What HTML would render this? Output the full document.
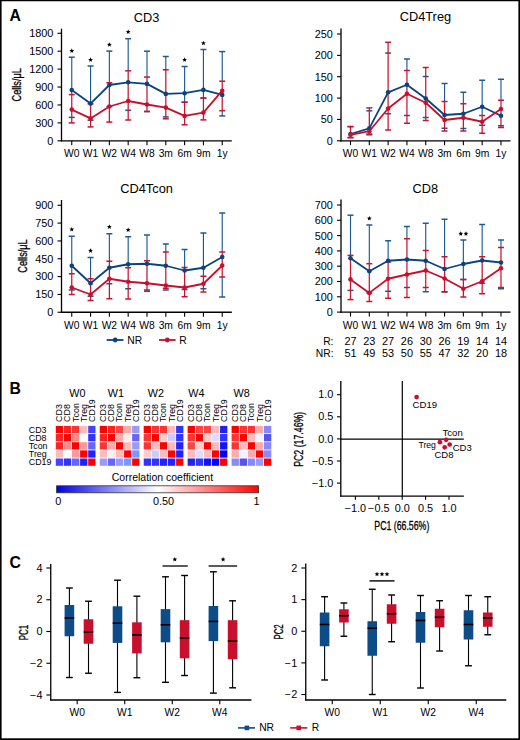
<!DOCTYPE html>
<html><head><meta charset="utf-8"><title>Figure</title>
<style>
html,body{margin:0;padding:0;background:#fff;}
body{width:520px;height:740px;overflow:hidden;}
svg{display:block;font-family:"Liberation Sans", sans-serif;}
</style></head>
<body>
<svg width="520" height="740" viewBox="0 0 520 740">
<rect width="520" height="740" fill="#fff"/>
<line x1="61.5" y1="28.7" x2="61.5" y2="141.4" stroke="#000" stroke-width="1.3"/>
<line x1="57.5" y1="140.8" x2="61.5" y2="140.8" stroke="#000" stroke-width="1.1"/>
<text transform="translate(53.4,144.7) scale(1.08,1)" font-size="10.1" text-anchor="end" font-weight="normal" fill="#000">0</text>
<line x1="57.5" y1="122.88" x2="61.5" y2="122.88" stroke="#000" stroke-width="1.1"/>
<text transform="translate(53.4,126.78) scale(1.08,1)" font-size="10.1" text-anchor="end" font-weight="normal" fill="#000">300</text>
<line x1="57.5" y1="104.96" x2="61.5" y2="104.96" stroke="#000" stroke-width="1.1"/>
<text transform="translate(53.4,108.86) scale(1.08,1)" font-size="10.1" text-anchor="end" font-weight="normal" fill="#000">600</text>
<line x1="57.5" y1="87.04" x2="61.5" y2="87.04" stroke="#000" stroke-width="1.1"/>
<text transform="translate(53.4,90.94) scale(1.08,1)" font-size="10.1" text-anchor="end" font-weight="normal" fill="#000">900</text>
<line x1="57.5" y1="69.12" x2="61.5" y2="69.12" stroke="#000" stroke-width="1.1"/>
<text transform="translate(53.4,73.02) scale(1.08,1)" font-size="10.1" text-anchor="end" font-weight="normal" fill="#000">1200</text>
<line x1="57.5" y1="51.2" x2="61.5" y2="51.2" stroke="#000" stroke-width="1.1"/>
<text transform="translate(53.4,55.1) scale(1.08,1)" font-size="10.1" text-anchor="end" font-weight="normal" fill="#000">1500</text>
<line x1="57.5" y1="33.28" x2="61.5" y2="33.28" stroke="#000" stroke-width="1.1"/>
<text transform="translate(53.4,37.18) scale(1.08,1)" font-size="10.1" text-anchor="end" font-weight="normal" fill="#000">1800</text>
<line x1="60.9" y1="140.8" x2="231.8" y2="140.8" stroke="#000" stroke-width="1.3"/>
<line x1="71.75" y1="140.8" x2="71.75" y2="145.2" stroke="#000" stroke-width="1.1"/>
<text x="71.75" y="157.3" font-size="10.3" text-anchor="middle" font-weight="normal" fill="#000">W0</text>
<line x1="90.56" y1="140.8" x2="90.56" y2="145.2" stroke="#000" stroke-width="1.1"/>
<text x="90.56" y="157.3" font-size="10.3" text-anchor="middle" font-weight="normal" fill="#000">W1</text>
<line x1="109.37" y1="140.8" x2="109.37" y2="145.2" stroke="#000" stroke-width="1.1"/>
<text x="109.37" y="157.3" font-size="10.3" text-anchor="middle" font-weight="normal" fill="#000">W2</text>
<line x1="128.18" y1="140.8" x2="128.18" y2="145.2" stroke="#000" stroke-width="1.1"/>
<text x="128.18" y="157.3" font-size="10.3" text-anchor="middle" font-weight="normal" fill="#000">W4</text>
<line x1="146.99" y1="140.8" x2="146.99" y2="145.2" stroke="#000" stroke-width="1.1"/>
<text x="146.99" y="157.3" font-size="10.3" text-anchor="middle" font-weight="normal" fill="#000">W8</text>
<line x1="165.8" y1="140.8" x2="165.8" y2="145.2" stroke="#000" stroke-width="1.1"/>
<text x="165.8" y="157.3" font-size="10.3" text-anchor="middle" font-weight="normal" fill="#000">3m</text>
<line x1="184.61" y1="140.8" x2="184.61" y2="145.2" stroke="#000" stroke-width="1.1"/>
<text x="184.61" y="157.3" font-size="10.3" text-anchor="middle" font-weight="normal" fill="#000">6m</text>
<line x1="203.42" y1="140.8" x2="203.42" y2="145.2" stroke="#000" stroke-width="1.1"/>
<text x="203.42" y="157.3" font-size="10.3" text-anchor="middle" font-weight="normal" fill="#000">9m</text>
<line x1="222.23" y1="140.8" x2="222.23" y2="145.2" stroke="#000" stroke-width="1.1"/>
<text x="222.23" y="157.3" font-size="10.3" text-anchor="middle" font-weight="normal" fill="#000">1y</text>
<line x1="71.75" y1="57.2" x2="71.75" y2="94.6" stroke="#1d5a95" stroke-width="1.15"/>
<line x1="68.75" y1="57.2" x2="74.75" y2="57.2" stroke="#1d5a95" stroke-width="1.5"/>
<line x1="68.75" y1="117.4" x2="74.75" y2="117.4" stroke="#1d5a95" stroke-width="1.5"/>
<line x1="90.56" y1="66" x2="90.56" y2="103.9" stroke="#1d5a95" stroke-width="1.15"/>
<line x1="87.56" y1="66" x2="93.56" y2="66" stroke="#1d5a95" stroke-width="1.5"/>
<line x1="87.56" y1="120.2" x2="93.56" y2="120.2" stroke="#1d5a95" stroke-width="1.5"/>
<line x1="109.37" y1="51.1" x2="109.37" y2="82.8" stroke="#1d5a95" stroke-width="1.15"/>
<line x1="106.37" y1="51.1" x2="112.37" y2="51.1" stroke="#1d5a95" stroke-width="1.5"/>
<line x1="106.37" y1="106.5" x2="112.37" y2="106.5" stroke="#1d5a95" stroke-width="1.5"/>
<line x1="128.18" y1="38.7" x2="128.18" y2="70.8" stroke="#1d5a95" stroke-width="1.15"/>
<line x1="125.18" y1="38.7" x2="131.18" y2="38.7" stroke="#1d5a95" stroke-width="1.5"/>
<line x1="125.18" y1="110.3" x2="131.18" y2="110.3" stroke="#1d5a95" stroke-width="1.5"/>
<line x1="146.99" y1="51.2" x2="146.99" y2="77.1" stroke="#1d5a95" stroke-width="1.15"/>
<line x1="143.99" y1="51.2" x2="149.99" y2="51.2" stroke="#1d5a95" stroke-width="1.5"/>
<line x1="143.99" y1="111.5" x2="149.99" y2="111.5" stroke="#1d5a95" stroke-width="1.5"/>
<line x1="165.8" y1="56.5" x2="165.8" y2="69.8" stroke="#1d5a95" stroke-width="1.15"/>
<line x1="162.8" y1="56.5" x2="168.8" y2="56.5" stroke="#1d5a95" stroke-width="1.5"/>
<line x1="162.8" y1="116.9" x2="168.8" y2="116.9" stroke="#1d5a95" stroke-width="1.5"/>
<line x1="184.61" y1="66.5" x2="184.61" y2="102.2" stroke="#1d5a95" stroke-width="1.15"/>
<line x1="181.61" y1="66.5" x2="187.61" y2="66.5" stroke="#1d5a95" stroke-width="1.5"/>
<line x1="181.61" y1="102.2" x2="187.61" y2="102.2" stroke="#1d5a95" stroke-width="1.5"/>
<line x1="203.42" y1="49.5" x2="203.42" y2="98.1" stroke="#1d5a95" stroke-width="1.15"/>
<line x1="200.42" y1="49.5" x2="206.42" y2="49.5" stroke="#1d5a95" stroke-width="1.5"/>
<line x1="200.42" y1="98.1" x2="206.42" y2="98.1" stroke="#1d5a95" stroke-width="1.5"/>
<line x1="222.23" y1="51.6" x2="222.23" y2="81.2" stroke="#1d5a95" stroke-width="1.15"/>
<line x1="222.23" y1="110.7" x2="222.23" y2="115.9" stroke="#1d5a95" stroke-width="1.15"/>
<line x1="219.23" y1="51.6" x2="225.23" y2="51.6" stroke="#1d5a95" stroke-width="1.5"/>
<line x1="219.23" y1="115.9" x2="225.23" y2="115.9" stroke="#1d5a95" stroke-width="1.5"/>
<line x1="71.75" y1="94.6" x2="71.75" y2="122.9" stroke="#c8142f" stroke-width="1.25"/>
<line x1="68.75" y1="94.6" x2="74.75" y2="94.6" stroke="#c8142f" stroke-width="1.5"/>
<line x1="68.75" y1="122.9" x2="74.75" y2="122.9" stroke="#c8142f" stroke-width="1.5"/>
<line x1="90.56" y1="103.9" x2="90.56" y2="126.9" stroke="#c8142f" stroke-width="1.25"/>
<line x1="87.56" y1="103.9" x2="93.56" y2="103.9" stroke="#c8142f" stroke-width="1.5"/>
<line x1="87.56" y1="126.9" x2="93.56" y2="126.9" stroke="#c8142f" stroke-width="1.5"/>
<line x1="109.37" y1="82.8" x2="109.37" y2="122.1" stroke="#c8142f" stroke-width="1.25"/>
<line x1="106.37" y1="82.8" x2="112.37" y2="82.8" stroke="#c8142f" stroke-width="1.5"/>
<line x1="106.37" y1="122.1" x2="112.37" y2="122.1" stroke="#c8142f" stroke-width="1.5"/>
<line x1="128.18" y1="70.8" x2="128.18" y2="120" stroke="#c8142f" stroke-width="1.25"/>
<line x1="125.18" y1="70.8" x2="131.18" y2="70.8" stroke="#c8142f" stroke-width="1.5"/>
<line x1="125.18" y1="120" x2="131.18" y2="120" stroke="#c8142f" stroke-width="1.5"/>
<line x1="146.99" y1="77.1" x2="146.99" y2="111.5" stroke="#c8142f" stroke-width="1.25"/>
<line x1="143.99" y1="77.1" x2="149.99" y2="77.1" stroke="#c8142f" stroke-width="1.5"/>
<line x1="143.99" y1="111.5" x2="149.99" y2="111.5" stroke="#c8142f" stroke-width="1.5"/>
<line x1="165.8" y1="69.8" x2="165.8" y2="118.8" stroke="#c8142f" stroke-width="1.25"/>
<line x1="162.8" y1="69.8" x2="168.8" y2="69.8" stroke="#c8142f" stroke-width="1.5"/>
<line x1="162.8" y1="118.8" x2="168.8" y2="118.8" stroke="#c8142f" stroke-width="1.5"/>
<line x1="184.61" y1="102.2" x2="184.61" y2="124.8" stroke="#c8142f" stroke-width="1.25"/>
<line x1="181.61" y1="102.2" x2="187.61" y2="102.2" stroke="#c8142f" stroke-width="1.5"/>
<line x1="181.61" y1="124.8" x2="187.61" y2="124.8" stroke="#c8142f" stroke-width="1.5"/>
<line x1="203.42" y1="98.1" x2="203.42" y2="119.9" stroke="#c8142f" stroke-width="1.25"/>
<line x1="200.42" y1="98.1" x2="206.42" y2="98.1" stroke="#c8142f" stroke-width="1.5"/>
<line x1="200.42" y1="119.9" x2="206.42" y2="119.9" stroke="#c8142f" stroke-width="1.5"/>
<line x1="222.23" y1="81.2" x2="222.23" y2="110.7" stroke="#c8142f" stroke-width="1.25"/>
<line x1="219.23" y1="81.2" x2="225.23" y2="81.2" stroke="#c8142f" stroke-width="1.5"/>
<line x1="219.23" y1="110.7" x2="225.23" y2="110.7" stroke="#c8142f" stroke-width="1.5"/>
<polyline points="71.75,90.06 90.56,103.6 109.37,85 128.18,82.3 146.99,83.9 165.8,93.9 184.61,93.2 203.42,89.9 222.23,94.9" fill="none" stroke="#0a4480" stroke-width="1.8" stroke-linejoin="round"/>
<circle cx="71.75" cy="90.06" r="2.3" fill="#0a4480"/>
<circle cx="90.56" cy="103.6" r="2.3" fill="#0a4480"/>
<circle cx="109.37" cy="85" r="2.3" fill="#0a4480"/>
<circle cx="128.18" cy="82.3" r="2.3" fill="#0a4480"/>
<circle cx="146.99" cy="83.9" r="2.3" fill="#0a4480"/>
<circle cx="165.8" cy="93.9" r="2.3" fill="#0a4480"/>
<circle cx="184.61" cy="93.2" r="2.3" fill="#0a4480"/>
<circle cx="203.42" cy="89.9" r="2.3" fill="#0a4480"/>
<circle cx="222.23" cy="94.9" r="2.3" fill="#0a4480"/>
<polyline points="71.75,109.6 90.56,118.4 109.37,106.5 128.18,101 146.99,104.5 165.8,107.6 184.61,115.9 203.42,112.6 222.23,90.7" fill="none" stroke="#c8102e" stroke-width="1.8" stroke-linejoin="round"/>
<circle cx="71.75" cy="109.6" r="2.3" fill="#c8102e"/>
<circle cx="90.56" cy="118.4" r="2.3" fill="#c8102e"/>
<circle cx="109.37" cy="106.5" r="2.3" fill="#c8102e"/>
<circle cx="128.18" cy="101" r="2.3" fill="#c8102e"/>
<circle cx="146.99" cy="104.5" r="2.3" fill="#c8102e"/>
<circle cx="165.8" cy="107.6" r="2.3" fill="#c8102e"/>
<circle cx="184.61" cy="115.9" r="2.3" fill="#c8102e"/>
<circle cx="203.42" cy="112.6" r="2.3" fill="#c8102e"/>
<circle cx="222.23" cy="90.7" r="2.3" fill="#c8102e"/>
<polygon points="71.75,48.3 72.41,49.89 74.13,50.03 72.82,51.15 73.22,52.82 71.75,51.92 70.28,52.82 70.68,51.15 69.37,50.03 71.09,49.89" fill="#000"/>
<polygon points="90.56,57.3 91.22,58.89 92.94,59.03 91.63,60.15 92.03,61.82 90.56,60.92 89.09,61.82 89.49,60.15 88.18,59.03 89.9,58.89" fill="#000"/>
<polygon points="109.37,42.2 110.03,43.79 111.75,43.93 110.44,45.05 110.84,46.72 109.37,45.83 107.9,46.72 108.3,45.05 106.99,43.93 108.71,43.79" fill="#000"/>
<polygon points="128.18,29.5 128.84,31.09 130.56,31.23 129.25,32.35 129.65,34.02 128.18,33.12 126.71,34.02 127.11,32.35 125.8,31.23 127.52,31.09" fill="#000"/>
<polygon points="184.61,57.3 185.27,58.89 186.99,59.03 185.68,60.15 186.08,61.82 184.61,60.92 183.14,61.82 183.54,60.15 182.23,59.03 183.95,58.89" fill="#000"/>
<polygon points="203.42,40.7 204.08,42.29 205.8,42.43 204.49,43.55 204.89,45.22 203.42,44.33 201.95,45.22 202.35,43.55 201.04,42.43 202.76,42.29" fill="#000"/>
<text x="146.6" y="21.6" font-size="12.8" text-anchor="middle" font-weight="normal" fill="#000">CD3</text>
<text transform="translate(21,84.8) rotate(-90) scale(0.74,1)" font-size="12.4" text-anchor="middle" fill="#000" stroke="#000" stroke-width="0.3">Cells/μL</text>
<line x1="341" y1="28.6" x2="341" y2="141.4" stroke="#000" stroke-width="1.3"/>
<line x1="337" y1="140.8" x2="341" y2="140.8" stroke="#000" stroke-width="1.1"/>
<text transform="translate(332.9,144.7) scale(1.08,1)" font-size="10.1" text-anchor="end" font-weight="normal" fill="#000">0</text>
<line x1="337" y1="119.44" x2="341" y2="119.44" stroke="#000" stroke-width="1.1"/>
<text transform="translate(332.9,123.34) scale(1.08,1)" font-size="10.1" text-anchor="end" font-weight="normal" fill="#000">50</text>
<line x1="337" y1="98.08" x2="341" y2="98.08" stroke="#000" stroke-width="1.1"/>
<text transform="translate(332.9,101.98) scale(1.08,1)" font-size="10.1" text-anchor="end" font-weight="normal" fill="#000">100</text>
<line x1="337" y1="76.72" x2="341" y2="76.72" stroke="#000" stroke-width="1.1"/>
<text transform="translate(332.9,80.62) scale(1.08,1)" font-size="10.1" text-anchor="end" font-weight="normal" fill="#000">150</text>
<line x1="337" y1="55.36" x2="341" y2="55.36" stroke="#000" stroke-width="1.1"/>
<text transform="translate(332.9,59.26) scale(1.08,1)" font-size="10.1" text-anchor="end" font-weight="normal" fill="#000">200</text>
<line x1="337" y1="34" x2="341" y2="34" stroke="#000" stroke-width="1.1"/>
<text transform="translate(332.9,37.9) scale(1.08,1)" font-size="10.1" text-anchor="end" font-weight="normal" fill="#000">250</text>
<line x1="340.4" y1="140.8" x2="510.5" y2="140.8" stroke="#000" stroke-width="1.3"/>
<line x1="350.5" y1="140.8" x2="350.5" y2="145.2" stroke="#000" stroke-width="1.1"/>
<text x="350.5" y="157.3" font-size="10.3" text-anchor="middle" font-weight="normal" fill="#000">W0</text>
<line x1="369.31" y1="140.8" x2="369.31" y2="145.2" stroke="#000" stroke-width="1.1"/>
<text x="369.31" y="157.3" font-size="10.3" text-anchor="middle" font-weight="normal" fill="#000">W1</text>
<line x1="388.12" y1="140.8" x2="388.12" y2="145.2" stroke="#000" stroke-width="1.1"/>
<text x="388.12" y="157.3" font-size="10.3" text-anchor="middle" font-weight="normal" fill="#000">W2</text>
<line x1="406.93" y1="140.8" x2="406.93" y2="145.2" stroke="#000" stroke-width="1.1"/>
<text x="406.93" y="157.3" font-size="10.3" text-anchor="middle" font-weight="normal" fill="#000">W4</text>
<line x1="425.74" y1="140.8" x2="425.74" y2="145.2" stroke="#000" stroke-width="1.1"/>
<text x="425.74" y="157.3" font-size="10.3" text-anchor="middle" font-weight="normal" fill="#000">W8</text>
<line x1="444.55" y1="140.8" x2="444.55" y2="145.2" stroke="#000" stroke-width="1.1"/>
<text x="444.55" y="157.3" font-size="10.3" text-anchor="middle" font-weight="normal" fill="#000">3m</text>
<line x1="463.36" y1="140.8" x2="463.36" y2="145.2" stroke="#000" stroke-width="1.1"/>
<text x="463.36" y="157.3" font-size="10.3" text-anchor="middle" font-weight="normal" fill="#000">6m</text>
<line x1="482.17" y1="140.8" x2="482.17" y2="145.2" stroke="#000" stroke-width="1.1"/>
<text x="482.17" y="157.3" font-size="10.3" text-anchor="middle" font-weight="normal" fill="#000">9m</text>
<line x1="500.98" y1="140.8" x2="500.98" y2="145.2" stroke="#000" stroke-width="1.1"/>
<text x="500.98" y="157.3" font-size="10.3" text-anchor="middle" font-weight="normal" fill="#000">1y</text>
<line x1="350.5" y1="126.5" x2="350.5" y2="126.7" stroke="#1d5a95" stroke-width="1.15"/>
<line x1="347.5" y1="126.5" x2="353.5" y2="126.5" stroke="#1d5a95" stroke-width="1.5"/>
<line x1="347.5" y1="137.5" x2="353.5" y2="137.5" stroke="#1d5a95" stroke-width="1.5"/>
<line x1="369.31" y1="134" x2="369.31" y2="134.8" stroke="#1d5a95" stroke-width="1.15"/>
<line x1="366.31" y1="110.8" x2="372.31" y2="110.8" stroke="#1d5a95" stroke-width="1.5"/>
<line x1="366.31" y1="134.8" x2="372.31" y2="134.8" stroke="#1d5a95" stroke-width="1.5"/>
<line x1="385.12" y1="53.1" x2="391.12" y2="53.1" stroke="#1d5a95" stroke-width="1.5"/>
<line x1="385.12" y1="113.8" x2="391.12" y2="113.8" stroke="#1d5a95" stroke-width="1.5"/>
<line x1="406.93" y1="59" x2="406.93" y2="70.5" stroke="#1d5a95" stroke-width="1.15"/>
<line x1="403.93" y1="59" x2="409.93" y2="59" stroke="#1d5a95" stroke-width="1.5"/>
<line x1="403.93" y1="115.5" x2="409.93" y2="115.5" stroke="#1d5a95" stroke-width="1.5"/>
<line x1="422.74" y1="76.5" x2="428.74" y2="76.5" stroke="#1d5a95" stroke-width="1.5"/>
<line x1="422.74" y1="117.5" x2="428.74" y2="117.5" stroke="#1d5a95" stroke-width="1.5"/>
<line x1="444.55" y1="83.5" x2="444.55" y2="101.5" stroke="#1d5a95" stroke-width="1.15"/>
<line x1="441.55" y1="83.5" x2="447.55" y2="83.5" stroke="#1d5a95" stroke-width="1.5"/>
<line x1="441.55" y1="128.25" x2="447.55" y2="128.25" stroke="#1d5a95" stroke-width="1.5"/>
<line x1="463.36" y1="92.25" x2="463.36" y2="103.75" stroke="#1d5a95" stroke-width="1.15"/>
<line x1="460.36" y1="92.25" x2="466.36" y2="92.25" stroke="#1d5a95" stroke-width="1.5"/>
<line x1="460.36" y1="128.5" x2="466.36" y2="128.5" stroke="#1d5a95" stroke-width="1.5"/>
<line x1="482.17" y1="80.25" x2="482.17" y2="115.5" stroke="#1d5a95" stroke-width="1.15"/>
<line x1="479.17" y1="80.25" x2="485.17" y2="80.25" stroke="#1d5a95" stroke-width="1.5"/>
<line x1="479.17" y1="125.25" x2="485.17" y2="125.25" stroke="#1d5a95" stroke-width="1.5"/>
<line x1="500.98" y1="79.25" x2="500.98" y2="100.25" stroke="#1d5a95" stroke-width="1.15"/>
<line x1="497.98" y1="79.25" x2="503.98" y2="79.25" stroke="#1d5a95" stroke-width="1.5"/>
<line x1="497.98" y1="125.75" x2="503.98" y2="125.75" stroke="#1d5a95" stroke-width="1.5"/>
<line x1="350.5" y1="126.7" x2="350.5" y2="137.7" stroke="#c8142f" stroke-width="1.25"/>
<line x1="347.5" y1="126.7" x2="353.5" y2="126.7" stroke="#c8142f" stroke-width="1.5"/>
<line x1="347.5" y1="137.7" x2="353.5" y2="137.7" stroke="#c8142f" stroke-width="1.5"/>
<line x1="369.31" y1="107.9" x2="369.31" y2="134" stroke="#c8142f" stroke-width="1.25"/>
<line x1="366.31" y1="107.9" x2="372.31" y2="107.9" stroke="#c8142f" stroke-width="1.5"/>
<line x1="366.31" y1="134" x2="372.31" y2="134" stroke="#c8142f" stroke-width="1.5"/>
<line x1="388.12" y1="42.3" x2="388.12" y2="130" stroke="#c8142f" stroke-width="1.25"/>
<line x1="385.12" y1="42.3" x2="391.12" y2="42.3" stroke="#c8142f" stroke-width="1.5"/>
<line x1="385.12" y1="130" x2="391.12" y2="130" stroke="#c8142f" stroke-width="1.5"/>
<line x1="406.93" y1="70.5" x2="406.93" y2="123.25" stroke="#c8142f" stroke-width="1.25"/>
<line x1="403.93" y1="70.5" x2="409.93" y2="70.5" stroke="#c8142f" stroke-width="1.5"/>
<line x1="403.93" y1="123.25" x2="409.93" y2="123.25" stroke="#c8142f" stroke-width="1.5"/>
<line x1="425.74" y1="67.5" x2="425.74" y2="120.5" stroke="#c8142f" stroke-width="1.25"/>
<line x1="422.74" y1="67.5" x2="428.74" y2="67.5" stroke="#c8142f" stroke-width="1.5"/>
<line x1="422.74" y1="120.5" x2="428.74" y2="120.5" stroke="#c8142f" stroke-width="1.5"/>
<line x1="444.55" y1="101.5" x2="444.55" y2="131" stroke="#c8142f" stroke-width="1.25"/>
<line x1="441.55" y1="101.5" x2="447.55" y2="101.5" stroke="#c8142f" stroke-width="1.5"/>
<line x1="441.55" y1="131" x2="447.55" y2="131" stroke="#c8142f" stroke-width="1.5"/>
<line x1="463.36" y1="103.75" x2="463.36" y2="131" stroke="#c8142f" stroke-width="1.25"/>
<line x1="460.36" y1="103.75" x2="466.36" y2="103.75" stroke="#c8142f" stroke-width="1.5"/>
<line x1="460.36" y1="131" x2="466.36" y2="131" stroke="#c8142f" stroke-width="1.5"/>
<line x1="482.17" y1="115.5" x2="482.17" y2="133.25" stroke="#c8142f" stroke-width="1.25"/>
<line x1="479.17" y1="115.5" x2="485.17" y2="115.5" stroke="#c8142f" stroke-width="1.5"/>
<line x1="479.17" y1="133.25" x2="485.17" y2="133.25" stroke="#c8142f" stroke-width="1.5"/>
<line x1="500.98" y1="100.25" x2="500.98" y2="127.5" stroke="#c8142f" stroke-width="1.25"/>
<line x1="497.98" y1="100.25" x2="503.98" y2="100.25" stroke="#c8142f" stroke-width="1.5"/>
<line x1="497.98" y1="127.5" x2="503.98" y2="127.5" stroke="#c8142f" stroke-width="1.5"/>
<polyline points="350.5,134 369.31,128.3 388.12,92.3 406.93,84.75 425.74,98.5 444.55,115 463.36,113.75 482.17,106.75 500.98,115.75" fill="none" stroke="#0a4480" stroke-width="1.8" stroke-linejoin="round"/>
<circle cx="350.5" cy="134" r="2.3" fill="#0a4480"/>
<circle cx="369.31" cy="128.3" r="2.3" fill="#0a4480"/>
<circle cx="388.12" cy="92.3" r="2.3" fill="#0a4480"/>
<circle cx="406.93" cy="84.75" r="2.3" fill="#0a4480"/>
<circle cx="425.74" cy="98.5" r="2.3" fill="#0a4480"/>
<circle cx="444.55" cy="115" r="2.3" fill="#0a4480"/>
<circle cx="463.36" cy="113.75" r="2.3" fill="#0a4480"/>
<circle cx="482.17" cy="106.75" r="2.3" fill="#0a4480"/>
<circle cx="500.98" cy="115.75" r="2.3" fill="#0a4480"/>
<polyline points="350.5,134.8 369.31,131.2 388.12,108.5 406.93,93.75 425.74,102.75 444.55,120 463.36,117.75 482.17,121.75 500.98,109" fill="none" stroke="#c8102e" stroke-width="1.8" stroke-linejoin="round"/>
<circle cx="350.5" cy="134.8" r="2.3" fill="#c8102e"/>
<circle cx="369.31" cy="131.2" r="2.3" fill="#c8102e"/>
<circle cx="388.12" cy="108.5" r="2.3" fill="#c8102e"/>
<circle cx="406.93" cy="93.75" r="2.3" fill="#c8102e"/>
<circle cx="425.74" cy="102.75" r="2.3" fill="#c8102e"/>
<circle cx="444.55" cy="120" r="2.3" fill="#c8102e"/>
<circle cx="463.36" cy="117.75" r="2.3" fill="#c8102e"/>
<circle cx="482.17" cy="121.75" r="2.3" fill="#c8102e"/>
<circle cx="500.98" cy="109" r="2.3" fill="#c8102e"/>
<text x="425.4" y="21.4" font-size="12.8" text-anchor="middle" font-weight="normal" fill="#000">CD4Treg</text>
<line x1="61.5" y1="200" x2="61.5" y2="312.85" stroke="#000" stroke-width="1.3"/>
<line x1="57.5" y1="312.25" x2="61.5" y2="312.25" stroke="#000" stroke-width="1.1"/>
<text transform="translate(53.4,316.15) scale(1.08,1)" font-size="10.1" text-anchor="end" font-weight="normal" fill="#000">0</text>
<line x1="57.5" y1="294.42" x2="61.5" y2="294.42" stroke="#000" stroke-width="1.1"/>
<text transform="translate(53.4,298.32) scale(1.08,1)" font-size="10.1" text-anchor="end" font-weight="normal" fill="#000">150</text>
<line x1="57.5" y1="276.59" x2="61.5" y2="276.59" stroke="#000" stroke-width="1.1"/>
<text transform="translate(53.4,280.49) scale(1.08,1)" font-size="10.1" text-anchor="end" font-weight="normal" fill="#000">300</text>
<line x1="57.5" y1="258.76" x2="61.5" y2="258.76" stroke="#000" stroke-width="1.1"/>
<text transform="translate(53.4,262.66) scale(1.08,1)" font-size="10.1" text-anchor="end" font-weight="normal" fill="#000">450</text>
<line x1="57.5" y1="240.93" x2="61.5" y2="240.93" stroke="#000" stroke-width="1.1"/>
<text transform="translate(53.4,244.83) scale(1.08,1)" font-size="10.1" text-anchor="end" font-weight="normal" fill="#000">600</text>
<line x1="57.5" y1="223.1" x2="61.5" y2="223.1" stroke="#000" stroke-width="1.1"/>
<text transform="translate(53.4,227) scale(1.08,1)" font-size="10.1" text-anchor="end" font-weight="normal" fill="#000">750</text>
<line x1="57.5" y1="205.27" x2="61.5" y2="205.27" stroke="#000" stroke-width="1.1"/>
<text transform="translate(53.4,209.17) scale(1.08,1)" font-size="10.1" text-anchor="end" font-weight="normal" fill="#000">900</text>
<line x1="60.9" y1="312.25" x2="231.8" y2="312.25" stroke="#000" stroke-width="1.3"/>
<line x1="71.75" y1="312.25" x2="71.75" y2="316.65" stroke="#000" stroke-width="1.1"/>
<text x="71.75" y="328.75" font-size="10.3" text-anchor="middle" font-weight="normal" fill="#000">W0</text>
<line x1="90.56" y1="312.25" x2="90.56" y2="316.65" stroke="#000" stroke-width="1.1"/>
<text x="90.56" y="328.75" font-size="10.3" text-anchor="middle" font-weight="normal" fill="#000">W1</text>
<line x1="109.37" y1="312.25" x2="109.37" y2="316.65" stroke="#000" stroke-width="1.1"/>
<text x="109.37" y="328.75" font-size="10.3" text-anchor="middle" font-weight="normal" fill="#000">W2</text>
<line x1="128.18" y1="312.25" x2="128.18" y2="316.65" stroke="#000" stroke-width="1.1"/>
<text x="128.18" y="328.75" font-size="10.3" text-anchor="middle" font-weight="normal" fill="#000">W4</text>
<line x1="146.99" y1="312.25" x2="146.99" y2="316.65" stroke="#000" stroke-width="1.1"/>
<text x="146.99" y="328.75" font-size="10.3" text-anchor="middle" font-weight="normal" fill="#000">W8</text>
<line x1="165.8" y1="312.25" x2="165.8" y2="316.65" stroke="#000" stroke-width="1.1"/>
<text x="165.8" y="328.75" font-size="10.3" text-anchor="middle" font-weight="normal" fill="#000">3m</text>
<line x1="184.61" y1="312.25" x2="184.61" y2="316.65" stroke="#000" stroke-width="1.1"/>
<text x="184.61" y="328.75" font-size="10.3" text-anchor="middle" font-weight="normal" fill="#000">6m</text>
<line x1="203.42" y1="312.25" x2="203.42" y2="316.65" stroke="#000" stroke-width="1.1"/>
<text x="203.42" y="328.75" font-size="10.3" text-anchor="middle" font-weight="normal" fill="#000">9m</text>
<line x1="222.23" y1="312.25" x2="222.23" y2="316.65" stroke="#000" stroke-width="1.1"/>
<text x="222.23" y="328.75" font-size="10.3" text-anchor="middle" font-weight="normal" fill="#000">1y</text>
<line x1="71.75" y1="236.25" x2="71.75" y2="273.75" stroke="#1d5a95" stroke-width="1.15"/>
<line x1="68.75" y1="236.25" x2="74.75" y2="236.25" stroke="#1d5a95" stroke-width="1.5"/>
<line x1="68.75" y1="290" x2="74.75" y2="290" stroke="#1d5a95" stroke-width="1.5"/>
<line x1="90.56" y1="257.5" x2="90.56" y2="278.75" stroke="#1d5a95" stroke-width="1.15"/>
<line x1="87.56" y1="257.5" x2="93.56" y2="257.5" stroke="#1d5a95" stroke-width="1.5"/>
<line x1="87.56" y1="296.25" x2="93.56" y2="296.25" stroke="#1d5a95" stroke-width="1.5"/>
<line x1="109.37" y1="233.75" x2="109.37" y2="261.25" stroke="#1d5a95" stroke-width="1.15"/>
<line x1="106.37" y1="233.75" x2="112.37" y2="233.75" stroke="#1d5a95" stroke-width="1.5"/>
<line x1="106.37" y1="283.75" x2="112.37" y2="283.75" stroke="#1d5a95" stroke-width="1.5"/>
<line x1="128.18" y1="236.75" x2="128.18" y2="267.75" stroke="#1d5a95" stroke-width="1.15"/>
<line x1="125.18" y1="236.75" x2="131.18" y2="236.75" stroke="#1d5a95" stroke-width="1.5"/>
<line x1="125.18" y1="288.75" x2="131.18" y2="288.75" stroke="#1d5a95" stroke-width="1.5"/>
<line x1="146.99" y1="235" x2="146.99" y2="260.75" stroke="#1d5a95" stroke-width="1.15"/>
<line x1="143.99" y1="235" x2="149.99" y2="235" stroke="#1d5a95" stroke-width="1.5"/>
<line x1="143.99" y1="290" x2="149.99" y2="290" stroke="#1d5a95" stroke-width="1.5"/>
<line x1="165.8" y1="244" x2="165.8" y2="252" stroke="#1d5a95" stroke-width="1.15"/>
<line x1="165.8" y1="288.25" x2="165.8" y2="290" stroke="#1d5a95" stroke-width="1.15"/>
<line x1="162.8" y1="244" x2="168.8" y2="244" stroke="#1d5a95" stroke-width="1.5"/>
<line x1="162.8" y1="290" x2="168.8" y2="290" stroke="#1d5a95" stroke-width="1.5"/>
<line x1="184.61" y1="249.5" x2="184.61" y2="267.5" stroke="#1d5a95" stroke-width="1.15"/>
<line x1="181.61" y1="249.5" x2="187.61" y2="249.5" stroke="#1d5a95" stroke-width="1.5"/>
<line x1="181.61" y1="289.5" x2="187.61" y2="289.5" stroke="#1d5a95" stroke-width="1.5"/>
<line x1="203.42" y1="233" x2="203.42" y2="276.25" stroke="#1d5a95" stroke-width="1.15"/>
<line x1="200.42" y1="233" x2="206.42" y2="233" stroke="#1d5a95" stroke-width="1.5"/>
<line x1="200.42" y1="288.75" x2="206.42" y2="288.75" stroke="#1d5a95" stroke-width="1.5"/>
<line x1="222.23" y1="213" x2="222.23" y2="252" stroke="#1d5a95" stroke-width="1.15"/>
<line x1="222.23" y1="277" x2="222.23" y2="297" stroke="#1d5a95" stroke-width="1.15"/>
<line x1="219.23" y1="213" x2="225.23" y2="213" stroke="#1d5a95" stroke-width="1.5"/>
<line x1="219.23" y1="297" x2="225.23" y2="297" stroke="#1d5a95" stroke-width="1.5"/>
<line x1="71.75" y1="273.75" x2="71.75" y2="294.5" stroke="#c8142f" stroke-width="1.25"/>
<line x1="68.75" y1="273.75" x2="74.75" y2="273.75" stroke="#c8142f" stroke-width="1.5"/>
<line x1="68.75" y1="294.5" x2="74.75" y2="294.5" stroke="#c8142f" stroke-width="1.5"/>
<line x1="90.56" y1="278.75" x2="90.56" y2="300.5" stroke="#c8142f" stroke-width="1.25"/>
<line x1="87.56" y1="278.75" x2="93.56" y2="278.75" stroke="#c8142f" stroke-width="1.5"/>
<line x1="87.56" y1="300.5" x2="93.56" y2="300.5" stroke="#c8142f" stroke-width="1.5"/>
<line x1="109.37" y1="261.25" x2="109.37" y2="298.75" stroke="#c8142f" stroke-width="1.25"/>
<line x1="106.37" y1="261.25" x2="112.37" y2="261.25" stroke="#c8142f" stroke-width="1.5"/>
<line x1="106.37" y1="298.75" x2="112.37" y2="298.75" stroke="#c8142f" stroke-width="1.5"/>
<line x1="128.18" y1="267.75" x2="128.18" y2="299" stroke="#c8142f" stroke-width="1.25"/>
<line x1="125.18" y1="267.75" x2="131.18" y2="267.75" stroke="#c8142f" stroke-width="1.5"/>
<line x1="125.18" y1="299" x2="131.18" y2="299" stroke="#c8142f" stroke-width="1.5"/>
<line x1="146.99" y1="260.75" x2="146.99" y2="291.25" stroke="#c8142f" stroke-width="1.25"/>
<line x1="143.99" y1="260.75" x2="149.99" y2="260.75" stroke="#c8142f" stroke-width="1.5"/>
<line x1="143.99" y1="291.25" x2="149.99" y2="291.25" stroke="#c8142f" stroke-width="1.5"/>
<line x1="165.8" y1="252" x2="165.8" y2="288.25" stroke="#c8142f" stroke-width="1.25"/>
<line x1="162.8" y1="252" x2="168.8" y2="252" stroke="#c8142f" stroke-width="1.5"/>
<line x1="162.8" y1="288.25" x2="168.8" y2="288.25" stroke="#c8142f" stroke-width="1.5"/>
<line x1="184.61" y1="267.5" x2="184.61" y2="296.75" stroke="#c8142f" stroke-width="1.25"/>
<line x1="181.61" y1="267.5" x2="187.61" y2="267.5" stroke="#c8142f" stroke-width="1.5"/>
<line x1="181.61" y1="296.75" x2="187.61" y2="296.75" stroke="#c8142f" stroke-width="1.5"/>
<line x1="203.42" y1="276.25" x2="203.42" y2="292" stroke="#c8142f" stroke-width="1.25"/>
<line x1="200.42" y1="276.25" x2="206.42" y2="276.25" stroke="#c8142f" stroke-width="1.5"/>
<line x1="200.42" y1="292" x2="206.42" y2="292" stroke="#c8142f" stroke-width="1.5"/>
<line x1="222.23" y1="252" x2="222.23" y2="277" stroke="#c8142f" stroke-width="1.25"/>
<line x1="219.23" y1="252" x2="225.23" y2="252" stroke="#c8142f" stroke-width="1.5"/>
<line x1="219.23" y1="277" x2="225.23" y2="277" stroke="#c8142f" stroke-width="1.5"/>
<polyline points="71.75,265.75 90.56,283.25 109.37,267.75 128.18,264.25 146.99,263.75 165.8,265.75 184.61,270.5 203.42,267.75 222.23,257" fill="none" stroke="#0a4480" stroke-width="1.8" stroke-linejoin="round"/>
<circle cx="71.75" cy="265.75" r="2.3" fill="#0a4480"/>
<circle cx="90.56" cy="283.25" r="2.3" fill="#0a4480"/>
<circle cx="109.37" cy="267.75" r="2.3" fill="#0a4480"/>
<circle cx="128.18" cy="264.25" r="2.3" fill="#0a4480"/>
<circle cx="146.99" cy="263.75" r="2.3" fill="#0a4480"/>
<circle cx="165.8" cy="265.75" r="2.3" fill="#0a4480"/>
<circle cx="184.61" cy="270.5" r="2.3" fill="#0a4480"/>
<circle cx="203.42" cy="267.75" r="2.3" fill="#0a4480"/>
<circle cx="222.23" cy="257" r="2.3" fill="#0a4480"/>
<polyline points="71.75,287.5 90.56,294.5 109.37,278.75 128.18,281.75 146.99,283.25 165.8,285.5 184.61,287.5 203.42,283.75 222.23,265.5" fill="none" stroke="#c8102e" stroke-width="1.8" stroke-linejoin="round"/>
<circle cx="71.75" cy="287.5" r="2.3" fill="#c8102e"/>
<circle cx="90.56" cy="294.5" r="2.3" fill="#c8102e"/>
<circle cx="109.37" cy="278.75" r="2.3" fill="#c8102e"/>
<circle cx="128.18" cy="281.75" r="2.3" fill="#c8102e"/>
<circle cx="146.99" cy="283.25" r="2.3" fill="#c8102e"/>
<circle cx="165.8" cy="285.5" r="2.3" fill="#c8102e"/>
<circle cx="184.61" cy="287.5" r="2.3" fill="#c8102e"/>
<circle cx="203.42" cy="283.75" r="2.3" fill="#c8102e"/>
<circle cx="222.23" cy="265.5" r="2.3" fill="#c8102e"/>
<polygon points="71.75,227 72.41,228.59 74.13,228.73 72.82,229.85 73.22,231.52 71.75,230.62 70.28,231.52 70.68,229.85 69.37,228.73 71.09,228.59" fill="#000"/>
<polygon points="90.56,248.25 91.22,249.84 92.94,249.98 91.63,251.1 92.03,252.77 90.56,251.88 89.09,252.77 89.49,251.1 88.18,249.98 89.9,249.84" fill="#000"/>
<polygon points="109.37,224.5 110.03,226.09 111.75,226.23 110.44,227.35 110.84,229.02 109.37,228.12 107.9,229.02 108.3,227.35 106.99,226.23 108.71,226.09" fill="#000"/>
<polygon points="128.18,227.5 128.84,229.09 130.56,229.23 129.25,230.35 129.65,232.02 128.18,231.12 126.71,232.02 127.11,230.35 125.8,229.23 127.52,229.09" fill="#000"/>
<text x="146.6" y="193" font-size="12.8" text-anchor="middle" font-weight="normal" fill="#000">CD4Tcon</text>
<text transform="translate(26.7,256) rotate(-90) scale(0.74,1)" font-size="12.4" text-anchor="middle" fill="#000" stroke="#000" stroke-width="0.3">Cells/μL</text>
<line x1="341" y1="199.5" x2="341" y2="312.7" stroke="#000" stroke-width="1.3"/>
<line x1="337" y1="312.1" x2="341" y2="312.1" stroke="#000" stroke-width="1.1"/>
<text transform="translate(332.9,316) scale(1.08,1)" font-size="10.1" text-anchor="end" font-weight="normal" fill="#000">0</text>
<line x1="337" y1="296.8" x2="341" y2="296.8" stroke="#000" stroke-width="1.1"/>
<text transform="translate(332.9,300.7) scale(1.08,1)" font-size="10.1" text-anchor="end" font-weight="normal" fill="#000">100</text>
<line x1="337" y1="281.5" x2="341" y2="281.5" stroke="#000" stroke-width="1.1"/>
<text transform="translate(332.9,285.4) scale(1.08,1)" font-size="10.1" text-anchor="end" font-weight="normal" fill="#000">200</text>
<line x1="337" y1="266.2" x2="341" y2="266.2" stroke="#000" stroke-width="1.1"/>
<text transform="translate(332.9,270.1) scale(1.08,1)" font-size="10.1" text-anchor="end" font-weight="normal" fill="#000">300</text>
<line x1="337" y1="250.9" x2="341" y2="250.9" stroke="#000" stroke-width="1.1"/>
<text transform="translate(332.9,254.8) scale(1.08,1)" font-size="10.1" text-anchor="end" font-weight="normal" fill="#000">400</text>
<line x1="337" y1="235.6" x2="341" y2="235.6" stroke="#000" stroke-width="1.1"/>
<text transform="translate(332.9,239.5) scale(1.08,1)" font-size="10.1" text-anchor="end" font-weight="normal" fill="#000">500</text>
<line x1="337" y1="220.3" x2="341" y2="220.3" stroke="#000" stroke-width="1.1"/>
<text transform="translate(332.9,224.2) scale(1.08,1)" font-size="10.1" text-anchor="end" font-weight="normal" fill="#000">600</text>
<line x1="337" y1="205" x2="341" y2="205" stroke="#000" stroke-width="1.1"/>
<text transform="translate(332.9,208.9) scale(1.08,1)" font-size="10.1" text-anchor="end" font-weight="normal" fill="#000">700</text>
<line x1="340.4" y1="312.1" x2="510.5" y2="312.1" stroke="#000" stroke-width="1.3"/>
<line x1="350.5" y1="312.1" x2="350.5" y2="316.5" stroke="#000" stroke-width="1.1"/>
<text x="350.5" y="328.6" font-size="10.3" text-anchor="middle" font-weight="normal" fill="#000">W0</text>
<line x1="369.31" y1="312.1" x2="369.31" y2="316.5" stroke="#000" stroke-width="1.1"/>
<text x="369.31" y="328.6" font-size="10.3" text-anchor="middle" font-weight="normal" fill="#000">W1</text>
<line x1="388.12" y1="312.1" x2="388.12" y2="316.5" stroke="#000" stroke-width="1.1"/>
<text x="388.12" y="328.6" font-size="10.3" text-anchor="middle" font-weight="normal" fill="#000">W2</text>
<line x1="406.93" y1="312.1" x2="406.93" y2="316.5" stroke="#000" stroke-width="1.1"/>
<text x="406.93" y="328.6" font-size="10.3" text-anchor="middle" font-weight="normal" fill="#000">W4</text>
<line x1="425.74" y1="312.1" x2="425.74" y2="316.5" stroke="#000" stroke-width="1.1"/>
<text x="425.74" y="328.6" font-size="10.3" text-anchor="middle" font-weight="normal" fill="#000">W8</text>
<line x1="444.55" y1="312.1" x2="444.55" y2="316.5" stroke="#000" stroke-width="1.1"/>
<text x="444.55" y="328.6" font-size="10.3" text-anchor="middle" font-weight="normal" fill="#000">3m</text>
<line x1="463.36" y1="312.1" x2="463.36" y2="316.5" stroke="#000" stroke-width="1.1"/>
<text x="463.36" y="328.6" font-size="10.3" text-anchor="middle" font-weight="normal" fill="#000">6m</text>
<line x1="482.17" y1="312.1" x2="482.17" y2="316.5" stroke="#000" stroke-width="1.1"/>
<text x="482.17" y="328.6" font-size="10.3" text-anchor="middle" font-weight="normal" fill="#000">9m</text>
<line x1="500.98" y1="312.1" x2="500.98" y2="316.5" stroke="#000" stroke-width="1.1"/>
<text x="500.98" y="328.6" font-size="10.3" text-anchor="middle" font-weight="normal" fill="#000">1y</text>
<line x1="350.5" y1="215.2" x2="350.5" y2="255.4" stroke="#1d5a95" stroke-width="1.15"/>
<line x1="347.5" y1="215.2" x2="353.5" y2="215.2" stroke="#1d5a95" stroke-width="1.5"/>
<line x1="347.5" y1="290.4" x2="353.5" y2="290.4" stroke="#1d5a95" stroke-width="1.5"/>
<line x1="369.31" y1="225" x2="369.31" y2="263.7" stroke="#1d5a95" stroke-width="1.15"/>
<line x1="366.31" y1="225" x2="372.31" y2="225" stroke="#1d5a95" stroke-width="1.5"/>
<line x1="366.31" y1="293" x2="372.31" y2="293" stroke="#1d5a95" stroke-width="1.5"/>
<line x1="388.12" y1="240.75" x2="388.12" y2="262" stroke="#1d5a95" stroke-width="1.15"/>
<line x1="385.12" y1="240.75" x2="391.12" y2="240.75" stroke="#1d5a95" stroke-width="1.5"/>
<line x1="385.12" y1="291.25" x2="391.12" y2="291.25" stroke="#1d5a95" stroke-width="1.5"/>
<line x1="406.93" y1="226.5" x2="406.93" y2="238.75" stroke="#1d5a95" stroke-width="1.15"/>
<line x1="403.93" y1="226.5" x2="409.93" y2="226.5" stroke="#1d5a95" stroke-width="1.5"/>
<line x1="403.93" y1="287.5" x2="409.93" y2="287.5" stroke="#1d5a95" stroke-width="1.5"/>
<line x1="425.74" y1="223.25" x2="425.74" y2="250.5" stroke="#1d5a95" stroke-width="1.15"/>
<line x1="425.74" y1="287.5" x2="425.74" y2="291.75" stroke="#1d5a95" stroke-width="1.15"/>
<line x1="422.74" y1="223.25" x2="428.74" y2="223.25" stroke="#1d5a95" stroke-width="1.5"/>
<line x1="422.74" y1="291.75" x2="428.74" y2="291.75" stroke="#1d5a95" stroke-width="1.5"/>
<line x1="444.55" y1="219.25" x2="444.55" y2="256.75" stroke="#1d5a95" stroke-width="1.15"/>
<line x1="444.55" y1="291.75" x2="444.55" y2="292" stroke="#1d5a95" stroke-width="1.15"/>
<line x1="441.55" y1="219.25" x2="447.55" y2="219.25" stroke="#1d5a95" stroke-width="1.5"/>
<line x1="441.55" y1="292" x2="447.55" y2="292" stroke="#1d5a95" stroke-width="1.5"/>
<line x1="463.36" y1="240" x2="463.36" y2="279.5" stroke="#1d5a95" stroke-width="1.15"/>
<line x1="460.36" y1="240" x2="466.36" y2="240" stroke="#1d5a95" stroke-width="1.5"/>
<line x1="460.36" y1="279.5" x2="466.36" y2="279.5" stroke="#1d5a95" stroke-width="1.5"/>
<line x1="482.17" y1="224.5" x2="482.17" y2="256.75" stroke="#1d5a95" stroke-width="1.15"/>
<line x1="479.17" y1="224.5" x2="485.17" y2="224.5" stroke="#1d5a95" stroke-width="1.5"/>
<line x1="479.17" y1="283.25" x2="485.17" y2="283.25" stroke="#1d5a95" stroke-width="1.5"/>
<line x1="500.98" y1="240" x2="500.98" y2="247.5" stroke="#1d5a95" stroke-width="1.15"/>
<line x1="500.98" y1="287.5" x2="500.98" y2="288.75" stroke="#1d5a95" stroke-width="1.15"/>
<line x1="497.98" y1="240" x2="503.98" y2="240" stroke="#1d5a95" stroke-width="1.5"/>
<line x1="497.98" y1="288.75" x2="503.98" y2="288.75" stroke="#1d5a95" stroke-width="1.5"/>
<line x1="350.5" y1="255.4" x2="350.5" y2="299.6" stroke="#c8142f" stroke-width="1.25"/>
<line x1="347.5" y1="255.4" x2="353.5" y2="255.4" stroke="#c8142f" stroke-width="1.5"/>
<line x1="347.5" y1="299.6" x2="353.5" y2="299.6" stroke="#c8142f" stroke-width="1.5"/>
<line x1="369.31" y1="263.7" x2="369.31" y2="301.5" stroke="#c8142f" stroke-width="1.25"/>
<line x1="366.31" y1="263.7" x2="372.31" y2="263.7" stroke="#c8142f" stroke-width="1.5"/>
<line x1="366.31" y1="301.5" x2="372.31" y2="301.5" stroke="#c8142f" stroke-width="1.5"/>
<line x1="388.12" y1="262" x2="388.12" y2="298.25" stroke="#c8142f" stroke-width="1.25"/>
<line x1="385.12" y1="262" x2="391.12" y2="262" stroke="#c8142f" stroke-width="1.5"/>
<line x1="385.12" y1="298.25" x2="391.12" y2="298.25" stroke="#c8142f" stroke-width="1.5"/>
<line x1="406.93" y1="238.75" x2="406.93" y2="297.5" stroke="#c8142f" stroke-width="1.25"/>
<line x1="403.93" y1="238.75" x2="409.93" y2="238.75" stroke="#c8142f" stroke-width="1.5"/>
<line x1="403.93" y1="297.5" x2="409.93" y2="297.5" stroke="#c8142f" stroke-width="1.5"/>
<line x1="425.74" y1="250.5" x2="425.74" y2="287.5" stroke="#c8142f" stroke-width="1.25"/>
<line x1="422.74" y1="250.5" x2="428.74" y2="250.5" stroke="#c8142f" stroke-width="1.5"/>
<line x1="422.74" y1="287.5" x2="428.74" y2="287.5" stroke="#c8142f" stroke-width="1.5"/>
<line x1="444.55" y1="256.75" x2="444.55" y2="291.75" stroke="#c8142f" stroke-width="1.25"/>
<line x1="441.55" y1="256.75" x2="447.55" y2="256.75" stroke="#c8142f" stroke-width="1.5"/>
<line x1="441.55" y1="291.75" x2="447.55" y2="291.75" stroke="#c8142f" stroke-width="1.5"/>
<line x1="463.36" y1="279.5" x2="463.36" y2="297" stroke="#c8142f" stroke-width="1.25"/>
<line x1="460.36" y1="279.5" x2="466.36" y2="279.5" stroke="#c8142f" stroke-width="1.5"/>
<line x1="460.36" y1="297" x2="466.36" y2="297" stroke="#c8142f" stroke-width="1.5"/>
<line x1="482.17" y1="256.75" x2="482.17" y2="293.75" stroke="#c8142f" stroke-width="1.25"/>
<line x1="479.17" y1="256.75" x2="485.17" y2="256.75" stroke="#c8142f" stroke-width="1.5"/>
<line x1="479.17" y1="293.75" x2="485.17" y2="293.75" stroke="#c8142f" stroke-width="1.5"/>
<line x1="500.98" y1="247.5" x2="500.98" y2="287.5" stroke="#c8142f" stroke-width="1.25"/>
<line x1="497.98" y1="247.5" x2="503.98" y2="247.5" stroke="#c8142f" stroke-width="1.5"/>
<line x1="497.98" y1="287.5" x2="503.98" y2="287.5" stroke="#c8142f" stroke-width="1.5"/>
<polyline points="350.5,258.3 369.31,271.2 388.12,260.75 406.93,259.5 425.74,260.75 444.55,269 463.36,264 482.17,260.5 500.98,262.5" fill="none" stroke="#0a4480" stroke-width="1.8" stroke-linejoin="round"/>
<circle cx="350.5" cy="258.3" r="2.3" fill="#0a4480"/>
<circle cx="369.31" cy="271.2" r="2.3" fill="#0a4480"/>
<circle cx="388.12" cy="260.75" r="2.3" fill="#0a4480"/>
<circle cx="406.93" cy="259.5" r="2.3" fill="#0a4480"/>
<circle cx="425.74" cy="260.75" r="2.3" fill="#0a4480"/>
<circle cx="444.55" cy="269" r="2.3" fill="#0a4480"/>
<circle cx="463.36" cy="264" r="2.3" fill="#0a4480"/>
<circle cx="482.17" cy="260.5" r="2.3" fill="#0a4480"/>
<circle cx="500.98" cy="262.5" r="2.3" fill="#0a4480"/>
<polyline points="350.5,279.4 369.31,292.9 388.12,278.75 406.93,274.5 425.74,270.5 444.55,278.5 463.36,288.75 482.17,281.25 500.98,268.25" fill="none" stroke="#c8102e" stroke-width="1.8" stroke-linejoin="round"/>
<circle cx="350.5" cy="279.4" r="2.3" fill="#c8102e"/>
<circle cx="369.31" cy="292.9" r="2.3" fill="#c8102e"/>
<circle cx="388.12" cy="278.75" r="2.3" fill="#c8102e"/>
<circle cx="406.93" cy="274.5" r="2.3" fill="#c8102e"/>
<circle cx="425.74" cy="270.5" r="2.3" fill="#c8102e"/>
<circle cx="444.55" cy="278.5" r="2.3" fill="#c8102e"/>
<circle cx="463.36" cy="288.75" r="2.3" fill="#c8102e"/>
<circle cx="482.17" cy="281.25" r="2.3" fill="#c8102e"/>
<circle cx="500.98" cy="268.25" r="2.3" fill="#c8102e"/>
<polygon points="369.31,216 369.97,217.59 371.69,217.73 370.38,218.85 370.78,220.52 369.31,219.62 367.84,220.52 368.24,218.85 366.93,217.73 368.65,217.59" fill="#000"/>
<polygon points="460.76,231.25 461.42,232.84 463.14,232.98 461.83,234.1 462.23,235.77 460.76,234.88 459.29,235.77 459.69,234.1 458.38,232.98 460.1,232.84" fill="#000"/>
<polygon points="465.96,231.25 466.62,232.84 468.34,232.98 467.03,234.1 467.43,235.77 465.96,234.88 464.49,235.77 464.89,234.1 463.58,232.98 465.3,232.84" fill="#000"/>
<text x="425.3" y="193" font-size="12.8" text-anchor="middle" font-weight="normal" fill="#000">CD8</text>
<text x="333.5" y="344.6" font-size="10.3" text-anchor="end" font-weight="normal" fill="#000">R:</text>
<text x="333.5" y="357.1" font-size="10.3" text-anchor="end" font-weight="normal" fill="#000">NR:</text>
<text transform="translate(350.5,344.6) scale(1.08,1)" font-size="10.1" text-anchor="middle" font-weight="normal" fill="#000">27</text>
<text transform="translate(350.5,357.1) scale(1.08,1)" font-size="10.1" text-anchor="middle" font-weight="normal" fill="#000">51</text>
<text transform="translate(369.31,344.6) scale(1.08,1)" font-size="10.1" text-anchor="middle" font-weight="normal" fill="#000">23</text>
<text transform="translate(369.31,357.1) scale(1.08,1)" font-size="10.1" text-anchor="middle" font-weight="normal" fill="#000">49</text>
<text transform="translate(388.12,344.6) scale(1.08,1)" font-size="10.1" text-anchor="middle" font-weight="normal" fill="#000">27</text>
<text transform="translate(388.12,357.1) scale(1.08,1)" font-size="10.1" text-anchor="middle" font-weight="normal" fill="#000">53</text>
<text transform="translate(406.93,344.6) scale(1.08,1)" font-size="10.1" text-anchor="middle" font-weight="normal" fill="#000">26</text>
<text transform="translate(406.93,357.1) scale(1.08,1)" font-size="10.1" text-anchor="middle" font-weight="normal" fill="#000">50</text>
<text transform="translate(425.74,344.6) scale(1.08,1)" font-size="10.1" text-anchor="middle" font-weight="normal" fill="#000">30</text>
<text transform="translate(425.74,357.1) scale(1.08,1)" font-size="10.1" text-anchor="middle" font-weight="normal" fill="#000">55</text>
<text transform="translate(444.55,344.6) scale(1.08,1)" font-size="10.1" text-anchor="middle" font-weight="normal" fill="#000">26</text>
<text transform="translate(444.55,357.1) scale(1.08,1)" font-size="10.1" text-anchor="middle" font-weight="normal" fill="#000">47</text>
<text transform="translate(463.36,344.6) scale(1.08,1)" font-size="10.1" text-anchor="middle" font-weight="normal" fill="#000">19</text>
<text transform="translate(463.36,357.1) scale(1.08,1)" font-size="10.1" text-anchor="middle" font-weight="normal" fill="#000">32</text>
<text transform="translate(482.17,344.6) scale(1.08,1)" font-size="10.1" text-anchor="middle" font-weight="normal" fill="#000">14</text>
<text transform="translate(482.17,357.1) scale(1.08,1)" font-size="10.1" text-anchor="middle" font-weight="normal" fill="#000">20</text>
<text transform="translate(500.98,344.6) scale(1.08,1)" font-size="10.1" text-anchor="middle" font-weight="normal" fill="#000">14</text>
<text transform="translate(500.98,357.1) scale(1.08,1)" font-size="10.1" text-anchor="middle" font-weight="normal" fill="#000">18</text>
<line x1="106.7" y1="340" x2="123.5" y2="340" stroke="#0a4480" stroke-width="1.8"/>
<circle cx="115.2" cy="340" r="2.4" fill="#0a4480"/>
<text x="127.3" y="343.6" font-size="10.3" text-anchor="start" font-weight="normal" fill="#000">NR</text>
<line x1="159" y1="340" x2="175.6" y2="340" stroke="#c8102e" stroke-width="1.8"/>
<circle cx="167.3" cy="340" r="2.4" fill="#c8102e"/>
<text x="179.3" y="343.6" font-size="10.3" text-anchor="start" font-weight="normal" fill="#000">R</text>
<rect x="55.8" y="425.9" width="7.3" height="7.3" fill="#ff0000"/>
<rect x="63.9" y="425.9" width="7.3" height="7.3" fill="#ff2222"/>
<rect x="72" y="425.9" width="7.3" height="7.3" fill="#ff3333"/>
<rect x="80.1" y="425.9" width="7.3" height="7.3" fill="#ffbbbb"/>
<rect x="88.2" y="425.9" width="7.3" height="7.3" fill="#4444ff"/>
<rect x="55.8" y="434.05" width="7.3" height="7.3" fill="#ff2222"/>
<rect x="63.9" y="434.05" width="7.3" height="7.3" fill="#ff0000"/>
<rect x="72" y="434.05" width="7.3" height="7.3" fill="#ff8888"/>
<rect x="80.1" y="434.05" width="7.3" height="7.3" fill="#fffbf5"/>
<rect x="88.2" y="434.05" width="7.3" height="7.3" fill="#3333ff"/>
<rect x="55.8" y="442.2" width="7.3" height="7.3" fill="#ff2222"/>
<rect x="63.9" y="442.2" width="7.3" height="7.3" fill="#ff8888"/>
<rect x="72" y="442.2" width="7.3" height="7.3" fill="#ff0000"/>
<rect x="80.1" y="442.2" width="7.3" height="7.3" fill="#ff9999"/>
<rect x="88.2" y="442.2" width="7.3" height="7.3" fill="#6666ff"/>
<rect x="55.8" y="450.35" width="7.3" height="7.3" fill="#ffbbbb"/>
<rect x="63.9" y="450.35" width="7.3" height="7.3" fill="#fffbf5"/>
<rect x="72" y="450.35" width="7.3" height="7.3" fill="#ff9999"/>
<rect x="80.1" y="450.35" width="7.3" height="7.3" fill="#ff0000"/>
<rect x="88.2" y="450.35" width="7.3" height="7.3" fill="#2222ff"/>
<rect x="55.8" y="458.5" width="7.3" height="7.3" fill="#4444ff"/>
<rect x="63.9" y="458.5" width="7.3" height="7.3" fill="#3333ff"/>
<rect x="72" y="458.5" width="7.3" height="7.3" fill="#6666ff"/>
<rect x="80.1" y="458.5" width="7.3" height="7.3" fill="#2222ff"/>
<rect x="88.2" y="458.5" width="7.3" height="7.3" fill="#ff0000"/>
<text transform="translate(61.9,421.9) rotate(-90)" font-size="8.9" fill="#000">CD3</text>
<text transform="translate(70.2,421.9) rotate(-90)" font-size="8.9" fill="#000">CD8</text>
<text transform="translate(78.5,421.9) rotate(-90)" font-size="8.9" fill="#000">Tcon</text>
<text transform="translate(86.8,421.9) rotate(-90)" font-size="8.9" fill="#000">Treg</text>
<text transform="translate(95.1,421.9) rotate(-90)" font-size="8.9" fill="#000">CD19</text>
<text x="77.4" y="397.4" font-size="10.8" text-anchor="middle" font-weight="normal" fill="#000">W0</text>
<rect x="99.75" y="425.9" width="7.3" height="7.3" fill="#ff0000"/>
<rect x="107.85" y="425.9" width="7.3" height="7.3" fill="#ff2222"/>
<rect x="115.95" y="425.9" width="7.3" height="7.3" fill="#ff4444"/>
<rect x="124.05" y="425.9" width="7.3" height="7.3" fill="#ffaaaa"/>
<rect x="132.15" y="425.9" width="7.3" height="7.3" fill="#9999ff"/>
<rect x="99.75" y="434.05" width="7.3" height="7.3" fill="#ff2222"/>
<rect x="107.85" y="434.05" width="7.3" height="7.3" fill="#ff0000"/>
<rect x="115.95" y="434.05" width="7.3" height="7.3" fill="#ffaaaa"/>
<rect x="124.05" y="434.05" width="7.3" height="7.3" fill="#ffeeee"/>
<rect x="132.15" y="434.05" width="7.3" height="7.3" fill="#6666ee"/>
<rect x="99.75" y="442.2" width="7.3" height="7.3" fill="#ff3333"/>
<rect x="107.85" y="442.2" width="7.3" height="7.3" fill="#ffaaaa"/>
<rect x="115.95" y="442.2" width="7.3" height="7.3" fill="#ff0000"/>
<rect x="124.05" y="442.2" width="7.3" height="7.3" fill="#ffbbbb"/>
<rect x="132.15" y="442.2" width="7.3" height="7.3" fill="#9999ff"/>
<rect x="99.75" y="450.35" width="7.3" height="7.3" fill="#ffbbbb"/>
<rect x="107.85" y="450.35" width="7.3" height="7.3" fill="#ffeeee"/>
<rect x="115.95" y="450.35" width="7.3" height="7.3" fill="#ffbbbb"/>
<rect x="124.05" y="450.35" width="7.3" height="7.3" fill="#ff0000"/>
<rect x="132.15" y="450.35" width="7.3" height="7.3" fill="#7799ff"/>
<rect x="99.75" y="458.5" width="7.3" height="7.3" fill="#9999ff"/>
<rect x="107.85" y="458.5" width="7.3" height="7.3" fill="#6666ff"/>
<rect x="115.95" y="458.5" width="7.3" height="7.3" fill="#9999ff"/>
<rect x="124.05" y="458.5" width="7.3" height="7.3" fill="#7799ff"/>
<rect x="132.15" y="458.5" width="7.3" height="7.3" fill="#ff0000"/>
<text transform="translate(105.85,421.9) rotate(-90)" font-size="8.9" fill="#000">CD3</text>
<text transform="translate(114.15,421.9) rotate(-90)" font-size="8.9" fill="#000">CD8</text>
<text transform="translate(122.45,421.9) rotate(-90)" font-size="8.9" fill="#000">Tcon</text>
<text transform="translate(130.75,421.9) rotate(-90)" font-size="8.9" fill="#000">Treg</text>
<text transform="translate(139.05,421.9) rotate(-90)" font-size="8.9" fill="#000">CD19</text>
<text x="115.9" y="397.4" font-size="10.8" text-anchor="middle" font-weight="normal" fill="#000">W1</text>
<rect x="143.7" y="425.9" width="7.3" height="7.3" fill="#ff0000"/>
<rect x="151.8" y="425.9" width="7.3" height="7.3" fill="#ff3333"/>
<rect x="159.9" y="425.9" width="7.3" height="7.3" fill="#ff3333"/>
<rect x="168" y="425.9" width="7.3" height="7.3" fill="#ffbbbb"/>
<rect x="176.1" y="425.9" width="7.3" height="7.3" fill="#3333ff"/>
<rect x="143.7" y="434.05" width="7.3" height="7.3" fill="#ff3333"/>
<rect x="151.8" y="434.05" width="7.3" height="7.3" fill="#ff0000"/>
<rect x="159.9" y="434.05" width="7.3" height="7.3" fill="#ffcccc"/>
<rect x="168" y="434.05" width="7.3" height="7.3" fill="#ccccff"/>
<rect x="176.1" y="434.05" width="7.3" height="7.3" fill="#3333ff"/>
<rect x="143.7" y="442.2" width="7.3" height="7.3" fill="#ff3333"/>
<rect x="151.8" y="442.2" width="7.3" height="7.3" fill="#ffbbbb"/>
<rect x="159.9" y="442.2" width="7.3" height="7.3" fill="#ff0000"/>
<rect x="168" y="442.2" width="7.3" height="7.3" fill="#ffbbbb"/>
<rect x="176.1" y="442.2" width="7.3" height="7.3" fill="#2222ff"/>
<rect x="143.7" y="450.35" width="7.3" height="7.3" fill="#ffcccc"/>
<rect x="151.8" y="450.35" width="7.3" height="7.3" fill="#ccccff"/>
<rect x="159.9" y="450.35" width="7.3" height="7.3" fill="#ffbbbb"/>
<rect x="168" y="450.35" width="7.3" height="7.3" fill="#ff0000"/>
<rect x="176.1" y="450.35" width="7.3" height="7.3" fill="#2222ff"/>
<rect x="143.7" y="458.5" width="7.3" height="7.3" fill="#3333ff"/>
<rect x="151.8" y="458.5" width="7.3" height="7.3" fill="#3333ff"/>
<rect x="159.9" y="458.5" width="7.3" height="7.3" fill="#2222ff"/>
<rect x="168" y="458.5" width="7.3" height="7.3" fill="#2222ff"/>
<rect x="176.1" y="458.5" width="7.3" height="7.3" fill="#ff0000"/>
<text transform="translate(149.8,421.9) rotate(-90)" font-size="8.9" fill="#000">CD3</text>
<text transform="translate(158.1,421.9) rotate(-90)" font-size="8.9" fill="#000">CD8</text>
<text transform="translate(166.4,421.9) rotate(-90)" font-size="8.9" fill="#000">Tcon</text>
<text transform="translate(174.7,421.9) rotate(-90)" font-size="8.9" fill="#000">Treg</text>
<text transform="translate(183,421.9) rotate(-90)" font-size="8.9" fill="#000">CD19</text>
<text x="155.9" y="397.4" font-size="10.8" text-anchor="middle" font-weight="normal" fill="#000">W2</text>
<rect x="187.65" y="425.9" width="7.3" height="7.3" fill="#ff0000"/>
<rect x="195.75" y="425.9" width="7.3" height="7.3" fill="#ff4444"/>
<rect x="203.85" y="425.9" width="7.3" height="7.3" fill="#ff4444"/>
<rect x="211.95" y="425.9" width="7.3" height="7.3" fill="#ffbbbb"/>
<rect x="220.05" y="425.9" width="7.3" height="7.3" fill="#2222ee"/>
<rect x="187.65" y="434.05" width="7.3" height="7.3" fill="#ff3333"/>
<rect x="195.75" y="434.05" width="7.3" height="7.3" fill="#ff0000"/>
<rect x="203.85" y="434.05" width="7.3" height="7.3" fill="#ffcccc"/>
<rect x="211.95" y="434.05" width="7.3" height="7.3" fill="#ddddff"/>
<rect x="220.05" y="434.05" width="7.3" height="7.3" fill="#3333ff"/>
<rect x="187.65" y="442.2" width="7.3" height="7.3" fill="#ff4444"/>
<rect x="195.75" y="442.2" width="7.3" height="7.3" fill="#ffcccc"/>
<rect x="203.85" y="442.2" width="7.3" height="7.3" fill="#ff0000"/>
<rect x="211.95" y="442.2" width="7.3" height="7.3" fill="#ffbbbb"/>
<rect x="220.05" y="442.2" width="7.3" height="7.3" fill="#1111ff"/>
<rect x="187.65" y="450.35" width="7.3" height="7.3" fill="#ffbbbb"/>
<rect x="195.75" y="450.35" width="7.3" height="7.3" fill="#ddddff"/>
<rect x="203.85" y="450.35" width="7.3" height="7.3" fill="#ffbbbb"/>
<rect x="211.95" y="450.35" width="7.3" height="7.3" fill="#ff0000"/>
<rect x="220.05" y="450.35" width="7.3" height="7.3" fill="#0000ee"/>
<rect x="187.65" y="458.5" width="7.3" height="7.3" fill="#2222ee"/>
<rect x="195.75" y="458.5" width="7.3" height="7.3" fill="#3333ff"/>
<rect x="203.85" y="458.5" width="7.3" height="7.3" fill="#1111ff"/>
<rect x="211.95" y="458.5" width="7.3" height="7.3" fill="#0000ff"/>
<rect x="220.05" y="458.5" width="7.3" height="7.3" fill="#ff0000"/>
<text transform="translate(193.75,421.9) rotate(-90)" font-size="8.9" fill="#000">CD3</text>
<text transform="translate(202.05,421.9) rotate(-90)" font-size="8.9" fill="#000">CD8</text>
<text transform="translate(210.35,421.9) rotate(-90)" font-size="8.9" fill="#000">Tcon</text>
<text transform="translate(218.65,421.9) rotate(-90)" font-size="8.9" fill="#000">Treg</text>
<text transform="translate(226.95,421.9) rotate(-90)" font-size="8.9" fill="#000">CD19</text>
<text x="196.3" y="397.4" font-size="10.8" text-anchor="middle" font-weight="normal" fill="#000">W4</text>
<rect x="231.6" y="425.9" width="7.3" height="7.3" fill="#ff0000"/>
<rect x="239.7" y="425.9" width="7.3" height="7.3" fill="#ff3333"/>
<rect x="247.8" y="425.9" width="7.3" height="7.3" fill="#ff3333"/>
<rect x="255.9" y="425.9" width="7.3" height="7.3" fill="#ffaaaa"/>
<rect x="264" y="425.9" width="7.3" height="7.3" fill="#8888ff"/>
<rect x="231.6" y="434.05" width="7.3" height="7.3" fill="#ff3333"/>
<rect x="239.7" y="434.05" width="7.3" height="7.3" fill="#ff0000"/>
<rect x="247.8" y="434.05" width="7.3" height="7.3" fill="#ffbbbb"/>
<rect x="255.9" y="434.05" width="7.3" height="7.3" fill="#f5f5ff"/>
<rect x="264" y="434.05" width="7.3" height="7.3" fill="#5555ee"/>
<rect x="231.6" y="442.2" width="7.3" height="7.3" fill="#ff3333"/>
<rect x="239.7" y="442.2" width="7.3" height="7.3" fill="#ffbbbb"/>
<rect x="247.8" y="442.2" width="7.3" height="7.3" fill="#ff0000"/>
<rect x="255.9" y="442.2" width="7.3" height="7.3" fill="#ffaaaa"/>
<rect x="264" y="442.2" width="7.3" height="7.3" fill="#8888ff"/>
<rect x="231.6" y="450.35" width="7.3" height="7.3" fill="#ffaaaa"/>
<rect x="239.7" y="450.35" width="7.3" height="7.3" fill="#f3f3ff"/>
<rect x="247.8" y="450.35" width="7.3" height="7.3" fill="#ffaaaa"/>
<rect x="255.9" y="450.35" width="7.3" height="7.3" fill="#ff0000"/>
<rect x="264" y="450.35" width="7.3" height="7.3" fill="#8888ff"/>
<rect x="231.6" y="458.5" width="7.3" height="7.3" fill="#8888ff"/>
<rect x="239.7" y="458.5" width="7.3" height="7.3" fill="#5555ee"/>
<rect x="247.8" y="458.5" width="7.3" height="7.3" fill="#8888ff"/>
<rect x="255.9" y="458.5" width="7.3" height="7.3" fill="#9999ff"/>
<rect x="264" y="458.5" width="7.3" height="7.3" fill="#ff0000"/>
<text transform="translate(237.7,421.9) rotate(-90)" font-size="8.9" fill="#000">CD3</text>
<text transform="translate(246,421.9) rotate(-90)" font-size="8.9" fill="#000">CD8</text>
<text transform="translate(254.3,421.9) rotate(-90)" font-size="8.9" fill="#000">Tcon</text>
<text transform="translate(262.6,421.9) rotate(-90)" font-size="8.9" fill="#000">Treg</text>
<text transform="translate(270.9,421.9) rotate(-90)" font-size="8.9" fill="#000">CD19</text>
<text x="241.7" y="397.4" font-size="10.8" text-anchor="middle" font-weight="normal" fill="#000">W8</text>
<text x="28.8" y="432.75" font-size="8.9" text-anchor="start" font-weight="normal" fill="#000">CD3</text>
<text x="28.8" y="440.9" font-size="8.9" text-anchor="start" font-weight="normal" fill="#000">CD8</text>
<text x="28.8" y="449.05" font-size="8.9" text-anchor="start" font-weight="normal" fill="#000">Tcon</text>
<text x="28.8" y="457.2" font-size="8.9" text-anchor="start" font-weight="normal" fill="#000">Treg</text>
<text x="28.8" y="465.35" font-size="8.9" text-anchor="start" font-weight="normal" fill="#000">CD19</text>
<defs><linearGradient id="cb" x1="0" x2="1" y1="0" y2="0"><stop offset="0" stop-color="#0000e6"/><stop offset="0.5" stop-color="#ffffff"/><stop offset="1" stop-color="#ff0000"/></linearGradient></defs>
<rect x="56.6" y="485.8" width="202" height="7" fill="url(#cb)" stroke="#333" stroke-width="0.8"/>
<text transform="translate(162.4,481.2) scale(1.04,1)" font-size="10.1" text-anchor="middle" font-weight="normal" fill="#000">Correlation coefficient</text>
<text transform="translate(58.3,504.6) scale(1.08,1)" font-size="10.1" text-anchor="middle" font-weight="normal" fill="#000">0</text>
<text transform="translate(163.5,504.6) scale(1.08,1)" font-size="10.1" text-anchor="middle" font-weight="normal" fill="#000">0.50</text>
<text transform="translate(256.6,504.6) scale(1.08,1)" font-size="10.1" text-anchor="middle" font-weight="normal" fill="#000">1</text>
<line x1="340.8" y1="381" x2="340.8" y2="496.8" stroke="#000" stroke-width="1.3"/>
<line x1="340.2" y1="496.2" x2="463.8" y2="496.2" stroke="#000" stroke-width="1.3"/>
<line x1="337" y1="394.7" x2="340.8" y2="394.7" stroke="#000" stroke-width="1.1"/>
<text transform="translate(333.4,398.35) scale(1.08,1)" font-size="10.1" text-anchor="end" font-weight="normal" fill="#000">1.0</text>
<line x1="337" y1="416.8" x2="340.8" y2="416.8" stroke="#000" stroke-width="1.1"/>
<text transform="translate(333.4,420.45) scale(1.08,1)" font-size="10.1" text-anchor="end" font-weight="normal" fill="#000">0.5</text>
<line x1="337" y1="438.9" x2="340.8" y2="438.9" stroke="#000" stroke-width="1.1"/>
<text transform="translate(333.4,442.55) scale(1.08,1)" font-size="10.1" text-anchor="end" font-weight="normal" fill="#000">0.0</text>
<line x1="337" y1="461" x2="340.8" y2="461" stroke="#000" stroke-width="1.1"/>
<text transform="translate(333.4,464.65) scale(1.08,1)" font-size="10.1" text-anchor="end" font-weight="normal" fill="#000">−0.5</text>
<line x1="337" y1="483.1" x2="340.8" y2="483.1" stroke="#000" stroke-width="1.1"/>
<text transform="translate(333.4,486.75) scale(1.08,1)" font-size="10.1" text-anchor="end" font-weight="normal" fill="#000">−1.0</text>
<line x1="355.4" y1="496.2" x2="355.4" y2="499.8" stroke="#000" stroke-width="1.1"/>
<text transform="translate(355.4,511.8) scale(1.08,1)" font-size="10.1" text-anchor="middle" font-weight="normal" fill="#000">−1.0</text>
<line x1="378.8" y1="496.2" x2="378.8" y2="499.8" stroke="#000" stroke-width="1.1"/>
<text transform="translate(378.8,511.8) scale(1.08,1)" font-size="10.1" text-anchor="middle" font-weight="normal" fill="#000">−0.5</text>
<line x1="402.2" y1="496.2" x2="402.2" y2="499.8" stroke="#000" stroke-width="1.1"/>
<text transform="translate(402.2,511.8) scale(1.08,1)" font-size="10.1" text-anchor="middle" font-weight="normal" fill="#000">0.0</text>
<line x1="425.6" y1="496.2" x2="425.6" y2="499.8" stroke="#000" stroke-width="1.1"/>
<text transform="translate(425.6,511.8) scale(1.08,1)" font-size="10.1" text-anchor="middle" font-weight="normal" fill="#000">0.5</text>
<line x1="449" y1="496.2" x2="449" y2="499.8" stroke="#000" stroke-width="1.1"/>
<text transform="translate(449,511.8) scale(1.08,1)" font-size="10.1" text-anchor="middle" font-weight="normal" fill="#000">1.0</text>
<line x1="340.8" y1="439.2" x2="463.8" y2="439.2" stroke="#000" stroke-width="1.2"/>
<line x1="402.3" y1="381" x2="402.3" y2="496.2" stroke="#000" stroke-width="1.2"/>
<circle cx="416.6" cy="397.1" r="2.35" fill="#c8102e"/>
<circle cx="446.1" cy="439.8" r="2.35" fill="#c8102e"/>
<circle cx="439.9" cy="442.2" r="2.35" fill="#c8102e"/>
<circle cx="449.7" cy="444.5" r="2.35" fill="#c8102e"/>
<circle cx="444.7" cy="447.3" r="2.35" fill="#c8102e"/>
<text x="412.6" y="408.2" font-size="9.6" text-anchor="start" font-weight="normal" fill="#000">CD19</text>
<text x="442.6" y="436" font-size="9.5" text-anchor="start" font-weight="normal" fill="#000">Tcon</text>
<text transform="translate(435.9,448.3) scale(0.9,1)" font-size="9.6" text-anchor="end" font-weight="normal" fill="#000">Treg</text>
<text x="452.7" y="451" font-size="9.5" text-anchor="start" font-weight="normal" fill="#000">CD3</text>
<text x="434.5" y="458.1" font-size="9.5" text-anchor="start" font-weight="normal" fill="#000">CD8</text>
<text transform="translate(401.8,530.3) scale(0.73,1)" font-size="12.0" text-anchor="middle" fill="#000" stroke="#000" stroke-width="0.3">PC1 (66.56%)</text>
<text transform="translate(302.9,439.3) rotate(-90) scale(0.73,1)" font-size="12.0" text-anchor="middle" fill="#000" stroke="#000" stroke-width="0.3">PC2 (17.46%)</text>
<line x1="50.75" y1="564" x2="50.75" y2="700.6" stroke="#000" stroke-width="1.3"/>
<line x1="50.15" y1="700" x2="251.4" y2="700" stroke="#000" stroke-width="1.3"/>
<line x1="46.35" y1="568" x2="50.75" y2="568" stroke="#000" stroke-width="1.1"/>
<text transform="translate(42.5,571.65) scale(1.08,1)" font-size="10.1" text-anchor="end" font-weight="normal" fill="#000">4</text>
<line x1="46.35" y1="599.75" x2="50.75" y2="599.75" stroke="#000" stroke-width="1.1"/>
<text transform="translate(42.5,603.4) scale(1.08,1)" font-size="10.1" text-anchor="end" font-weight="normal" fill="#000">2</text>
<line x1="46.35" y1="631.5" x2="50.75" y2="631.5" stroke="#000" stroke-width="1.1"/>
<text transform="translate(42.5,635.15) scale(1.08,1)" font-size="10.1" text-anchor="end" font-weight="normal" fill="#000">0</text>
<line x1="46.35" y1="663.25" x2="50.75" y2="663.25" stroke="#000" stroke-width="1.1"/>
<text transform="translate(42.5,666.9) scale(1.08,1)" font-size="10.1" text-anchor="end" font-weight="normal" fill="#000">−2</text>
<line x1="46.35" y1="695" x2="50.75" y2="695" stroke="#000" stroke-width="1.1"/>
<text transform="translate(42.5,698.65) scale(1.08,1)" font-size="10.1" text-anchor="end" font-weight="normal" fill="#000">−4</text>
<line x1="77.2" y1="700" x2="77.2" y2="704.2" stroke="#000" stroke-width="1.1"/>
<text x="77.2" y="715.6" font-size="10.3" text-anchor="middle" font-weight="normal" fill="#000">W0</text>
<line x1="124.73" y1="700" x2="124.73" y2="704.2" stroke="#000" stroke-width="1.1"/>
<text x="124.73" y="715.6" font-size="10.3" text-anchor="middle" font-weight="normal" fill="#000">W1</text>
<line x1="172.26" y1="700" x2="172.26" y2="704.2" stroke="#000" stroke-width="1.1"/>
<text x="172.26" y="715.6" font-size="10.3" text-anchor="middle" font-weight="normal" fill="#000">W2</text>
<line x1="219.79" y1="700" x2="219.79" y2="704.2" stroke="#000" stroke-width="1.1"/>
<text x="219.79" y="715.6" font-size="10.3" text-anchor="middle" font-weight="normal" fill="#000">W4</text>
<line x1="69.4" y1="588" x2="69.4" y2="677.5" stroke="#000" stroke-width="1.1"/>
<line x1="66" y1="588" x2="72.8" y2="588" stroke="#000" stroke-width="1.4"/>
<line x1="66" y1="677.5" x2="72.8" y2="677.5" stroke="#000" stroke-width="1.4"/>
<rect x="64.6" y="605" width="9.6" height="31.25" fill="#0e4c88"/>
<line x1="64.6" y1="618" x2="74.2" y2="618" stroke="#000" stroke-width="1.6"/>
<line x1="88.5" y1="601.25" x2="88.5" y2="673.25" stroke="#000" stroke-width="1.1"/>
<line x1="85.1" y1="601.25" x2="91.9" y2="601.25" stroke="#000" stroke-width="1.4"/>
<line x1="85.1" y1="673.25" x2="91.9" y2="673.25" stroke="#000" stroke-width="1.4"/>
<rect x="83.7" y="619.25" width="9.6" height="24.5" fill="#c8102e"/>
<line x1="83.7" y1="632" x2="93.3" y2="632" stroke="#000" stroke-width="1.6"/>
<line x1="117.5" y1="580.2" x2="117.5" y2="692.4" stroke="#000" stroke-width="1.1"/>
<line x1="114.1" y1="580.2" x2="120.9" y2="580.2" stroke="#000" stroke-width="1.4"/>
<line x1="114.1" y1="692.4" x2="120.9" y2="692.4" stroke="#000" stroke-width="1.4"/>
<rect x="112.7" y="606.3" width="9.6" height="36.6" fill="#0e4c88"/>
<line x1="112.7" y1="623.2" x2="122.3" y2="623.2" stroke="#000" stroke-width="1.6"/>
<line x1="136.9" y1="596.2" x2="136.9" y2="677.7" stroke="#000" stroke-width="1.1"/>
<line x1="133.5" y1="596.2" x2="140.3" y2="596.2" stroke="#000" stroke-width="1.4"/>
<line x1="133.5" y1="677.7" x2="140.3" y2="677.7" stroke="#000" stroke-width="1.4"/>
<rect x="132.1" y="622.3" width="9.6" height="31.1" fill="#c8102e"/>
<line x1="132.1" y1="634.9" x2="141.7" y2="634.9" stroke="#000" stroke-width="1.6"/>
<line x1="165.5" y1="576.8" x2="165.5" y2="682.3" stroke="#000" stroke-width="1.1"/>
<line x1="162.1" y1="576.8" x2="168.9" y2="576.8" stroke="#000" stroke-width="1.4"/>
<line x1="162.1" y1="682.3" x2="168.9" y2="682.3" stroke="#000" stroke-width="1.4"/>
<rect x="160.7" y="609.1" width="9.6" height="33.2" fill="#0e4c88"/>
<line x1="160.7" y1="624.8" x2="170.3" y2="624.8" stroke="#000" stroke-width="1.6"/>
<line x1="184.6" y1="575.5" x2="184.6" y2="675.5" stroke="#000" stroke-width="1.1"/>
<line x1="181.2" y1="575.5" x2="188" y2="575.5" stroke="#000" stroke-width="1.4"/>
<line x1="181.2" y1="675.5" x2="188" y2="675.5" stroke="#000" stroke-width="1.4"/>
<rect x="179.8" y="620.2" width="9.6" height="38.1" fill="#c8102e"/>
<line x1="179.8" y1="638" x2="189.4" y2="638" stroke="#000" stroke-width="1.6"/>
<line x1="213.4" y1="571.8" x2="213.4" y2="693.1" stroke="#000" stroke-width="1.1"/>
<line x1="210" y1="571.8" x2="216.8" y2="571.8" stroke="#000" stroke-width="1.4"/>
<line x1="210" y1="693.1" x2="216.8" y2="693.1" stroke="#000" stroke-width="1.4"/>
<rect x="208.6" y="606" width="9.6" height="35.1" fill="#0e4c88"/>
<line x1="208.6" y1="621.4" x2="218.2" y2="621.4" stroke="#000" stroke-width="1.6"/>
<line x1="232.6" y1="600.8" x2="232.6" y2="687.8" stroke="#000" stroke-width="1.1"/>
<line x1="229.2" y1="600.8" x2="236" y2="600.8" stroke="#000" stroke-width="1.4"/>
<line x1="229.2" y1="687.8" x2="236" y2="687.8" stroke="#000" stroke-width="1.4"/>
<rect x="227.8" y="620.2" width="9.6" height="39" fill="#c8102e"/>
<line x1="227.8" y1="641.1" x2="237.4" y2="641.1" stroke="#000" stroke-width="1.6"/>
<line x1="162.5" y1="566" x2="187.7" y2="566" stroke="#000" stroke-width="1.3"/>
<polygon points="174.8,556.9 175.46,558.49 177.18,558.63 175.87,559.75 176.27,561.42 174.8,560.52 173.33,561.42 173.73,559.75 172.42,558.63 174.14,558.49" fill="#000"/>
<line x1="208.6" y1="566" x2="237.2" y2="566" stroke="#000" stroke-width="1.3"/>
<polygon points="223.1,556.9 223.76,558.49 225.48,558.63 224.17,559.75 224.57,561.42 223.1,560.52 221.63,561.42 222.03,559.75 220.72,558.63 222.44,558.49" fill="#000"/>
<text transform="translate(28.0,632.6) rotate(-90) scale(0.64,1)" font-size="12.2" text-anchor="middle" fill="#000" stroke="#000" stroke-width="0.3">PC1</text>
<line x1="305.75" y1="563.6" x2="305.75" y2="700.6" stroke="#000" stroke-width="1.3"/>
<line x1="305.15" y1="700" x2="506.3" y2="700" stroke="#000" stroke-width="1.3"/>
<line x1="301.35" y1="568" x2="305.75" y2="568" stroke="#000" stroke-width="1.1"/>
<text transform="translate(297.2,571.65) scale(1.08,1)" font-size="10.1" text-anchor="end" font-weight="normal" fill="#000">2</text>
<line x1="301.35" y1="599.63" x2="305.75" y2="599.63" stroke="#000" stroke-width="1.1"/>
<text transform="translate(297.2,603.28) scale(1.08,1)" font-size="10.1" text-anchor="end" font-weight="normal" fill="#000">1</text>
<line x1="301.35" y1="631.26" x2="305.75" y2="631.26" stroke="#000" stroke-width="1.1"/>
<text transform="translate(297.2,634.91) scale(1.08,1)" font-size="10.1" text-anchor="end" font-weight="normal" fill="#000">0</text>
<line x1="301.35" y1="662.89" x2="305.75" y2="662.89" stroke="#000" stroke-width="1.1"/>
<text transform="translate(297.2,666.54) scale(1.08,1)" font-size="10.1" text-anchor="end" font-weight="normal" fill="#000">−1</text>
<line x1="301.35" y1="694.52" x2="305.75" y2="694.52" stroke="#000" stroke-width="1.1"/>
<text transform="translate(297.2,698.17) scale(1.08,1)" font-size="10.1" text-anchor="end" font-weight="normal" fill="#000">−2</text>
<line x1="332.25" y1="700" x2="332.25" y2="704.2" stroke="#000" stroke-width="1.1"/>
<text x="332.25" y="715.6" font-size="10.3" text-anchor="middle" font-weight="normal" fill="#000">W0</text>
<line x1="380.25" y1="700" x2="380.25" y2="704.2" stroke="#000" stroke-width="1.1"/>
<text x="380.25" y="715.6" font-size="10.3" text-anchor="middle" font-weight="normal" fill="#000">W1</text>
<line x1="428.25" y1="700" x2="428.25" y2="704.2" stroke="#000" stroke-width="1.1"/>
<text x="428.25" y="715.6" font-size="10.3" text-anchor="middle" font-weight="normal" fill="#000">W2</text>
<line x1="476.25" y1="700" x2="476.25" y2="704.2" stroke="#000" stroke-width="1.1"/>
<text x="476.25" y="715.6" font-size="10.3" text-anchor="middle" font-weight="normal" fill="#000">W4</text>
<line x1="324.6" y1="596.75" x2="324.6" y2="680" stroke="#000" stroke-width="1.1"/>
<line x1="321.2" y1="596.75" x2="328" y2="596.75" stroke="#000" stroke-width="1.4"/>
<line x1="321.2" y1="680" x2="328" y2="680" stroke="#000" stroke-width="1.4"/>
<rect x="319.8" y="612.5" width="9.6" height="33.75" fill="#0e4c88"/>
<line x1="319.8" y1="624.5" x2="329.4" y2="624.5" stroke="#000" stroke-width="1.6"/>
<line x1="343.9" y1="603" x2="343.9" y2="636.25" stroke="#000" stroke-width="1.1"/>
<line x1="340.5" y1="603" x2="347.3" y2="603" stroke="#000" stroke-width="1.4"/>
<line x1="340.5" y1="636.25" x2="347.3" y2="636.25" stroke="#000" stroke-width="1.4"/>
<rect x="339.1" y="609.25" width="9.6" height="13.25" fill="#c8102e"/>
<line x1="339.1" y1="615.75" x2="348.7" y2="615.75" stroke="#000" stroke-width="1.6"/>
<line x1="372.25" y1="589.25" x2="372.25" y2="694.5" stroke="#000" stroke-width="1.1"/>
<line x1="368.85" y1="589.25" x2="375.65" y2="589.25" stroke="#000" stroke-width="1.4"/>
<line x1="368.85" y1="694.5" x2="375.65" y2="694.5" stroke="#000" stroke-width="1.4"/>
<rect x="367.45" y="621.25" width="9.6" height="34.5" fill="#0e4c88"/>
<line x1="367.45" y1="628.25" x2="377.05" y2="628.25" stroke="#000" stroke-width="1.6"/>
<line x1="391.6" y1="595" x2="391.6" y2="641.75" stroke="#000" stroke-width="1.1"/>
<line x1="388.2" y1="595" x2="395" y2="595" stroke="#000" stroke-width="1.4"/>
<line x1="388.2" y1="641.75" x2="395" y2="641.75" stroke="#000" stroke-width="1.4"/>
<rect x="386.8" y="604.25" width="9.6" height="19.5" fill="#c8102e"/>
<line x1="386.8" y1="613.75" x2="396.4" y2="613.75" stroke="#000" stroke-width="1.6"/>
<line x1="420.5" y1="595.5" x2="420.5" y2="688" stroke="#000" stroke-width="1.1"/>
<line x1="417.1" y1="595.5" x2="423.9" y2="595.5" stroke="#000" stroke-width="1.4"/>
<line x1="417.1" y1="688" x2="423.9" y2="688" stroke="#000" stroke-width="1.4"/>
<rect x="415.7" y="612" width="9.6" height="30.75" fill="#0e4c88"/>
<line x1="415.7" y1="620.5" x2="425.3" y2="620.5" stroke="#000" stroke-width="1.6"/>
<line x1="439.6" y1="600.75" x2="439.6" y2="651" stroke="#000" stroke-width="1.1"/>
<line x1="436.2" y1="600.75" x2="443" y2="600.75" stroke="#000" stroke-width="1.4"/>
<line x1="436.2" y1="651" x2="443" y2="651" stroke="#000" stroke-width="1.4"/>
<rect x="434.8" y="608.75" width="9.6" height="18.5" fill="#c8102e"/>
<line x1="434.8" y1="617.25" x2="444.4" y2="617.25" stroke="#000" stroke-width="1.6"/>
<line x1="468.5" y1="595.5" x2="468.5" y2="665.75" stroke="#000" stroke-width="1.1"/>
<line x1="465.1" y1="595.5" x2="471.9" y2="595.5" stroke="#000" stroke-width="1.4"/>
<line x1="465.1" y1="665.75" x2="471.9" y2="665.75" stroke="#000" stroke-width="1.4"/>
<rect x="463.7" y="610.25" width="9.6" height="29.25" fill="#0e4c88"/>
<line x1="463.7" y1="624.5" x2="473.3" y2="624.5" stroke="#000" stroke-width="1.6"/>
<line x1="487.75" y1="596.75" x2="487.75" y2="634.75" stroke="#000" stroke-width="1.1"/>
<line x1="484.35" y1="596.75" x2="491.15" y2="596.75" stroke="#000" stroke-width="1.4"/>
<line x1="484.35" y1="634.75" x2="491.15" y2="634.75" stroke="#000" stroke-width="1.4"/>
<rect x="482.95" y="612.5" width="9.6" height="14.25" fill="#c8102e"/>
<line x1="482.95" y1="618" x2="492.55" y2="618" stroke="#000" stroke-width="1.6"/>
<line x1="369.5" y1="580.9" x2="394.5" y2="580.9" stroke="#000" stroke-width="1.4"/>
<polygon points="377,571.7 377.66,573.29 379.38,573.43 378.07,574.55 378.47,576.22 377,575.33 375.53,576.22 375.93,574.55 374.62,573.43 376.34,573.29" fill="#000"/>
<polygon points="382,571.7 382.66,573.29 384.38,573.43 383.07,574.55 383.47,576.22 382,575.33 380.53,576.22 380.93,574.55 379.62,573.43 381.34,573.29" fill="#000"/>
<polygon points="387,571.7 387.66,573.29 389.38,573.43 388.07,574.55 388.47,576.22 387,575.33 385.53,576.22 385.93,574.55 384.62,573.43 386.34,573.29" fill="#000"/>
<text transform="translate(283.1,631.9) rotate(-90) scale(0.64,1)" font-size="12.2" text-anchor="middle" fill="#000" stroke="#000" stroke-width="0.3">PC2</text>
<line x1="238.1" y1="727.9" x2="255" y2="727.9" stroke="#0e4c88" stroke-width="1.6"/>
<rect x="244.6" y="725.6" width="4.6" height="4.6" fill="#0e4c88"/>
<text x="259.2" y="731.2" font-size="10.3" text-anchor="start" font-weight="normal" fill="#000">NR</text>
<line x1="290.2" y1="727.9" x2="307.3" y2="727.9" stroke="#c8102e" stroke-width="1.6"/>
<rect x="296.4" y="725.6" width="4.6" height="4.6" fill="#c8102e"/>
<text x="311.7" y="731.2" font-size="10.3" text-anchor="start" font-weight="normal" fill="#000">R</text>
<text x="9.4" y="21.4" font-size="15.8" text-anchor="start" font-weight="bold" fill="#000">A</text>
<text x="9.4" y="393.6" font-size="15.8" text-anchor="start" font-weight="bold" fill="#000">B</text>
<text x="9.4" y="568" font-size="15.8" text-anchor="start" font-weight="bold" fill="#000">C</text>
<rect x="0" y="0" width="1.6" height="740" fill="#000"/>
<rect x="0" y="0" width="520" height="1.25" fill="#000"/>
<rect x="518.4" y="0" width="1.6" height="740" fill="#000"/>
<rect x="0" y="738.3" width="520" height="1.7" fill="#000"/>
</svg>
</body></html>
